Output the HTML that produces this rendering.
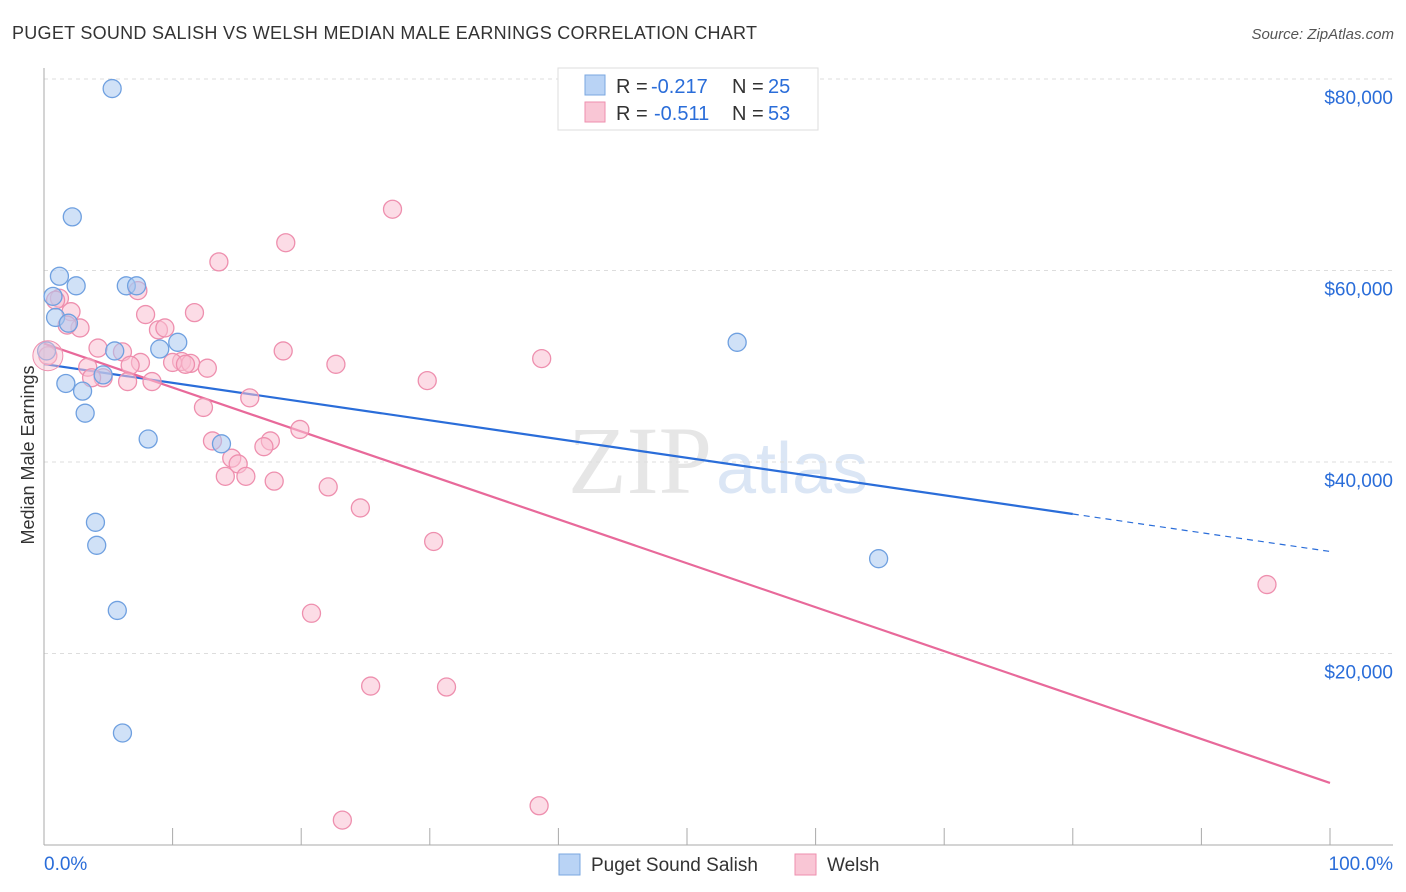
<!DOCTYPE html>
<html><head><meta charset="utf-8"><style>
body{margin:0;background:#fff;font-family:"Liberation Sans",sans-serif;}
svg{display:block}
</style></head><body>
<svg id="chart" width="1406" height="892" xmlns="http://www.w3.org/2000/svg">
<text x="12" y="39" font-size="18" fill="#333" textLength="745">PUGET SOUND SALISH VS WELSH MEDIAN MALE EARNINGS CORRELATION CHART</text>
<text x="1394" y="39" font-size="15" fill="#555" font-style="italic" text-anchor="end">Source: ZipAtlas.com</text>
<text x="712" y="493" font-size="96" fill="#e6e6e6" text-anchor="end" font-family="Liberation Serif">ZIP</text>
<text x="716" y="493" font-size="72" fill="#dbe6f5">atlas</text>
<g id="grid"></g><g id="axes"></g><g id="lines"></g><g id="pts"></g>
<text transform="translate(34,455) rotate(-90)" font-size="18" fill="#333" text-anchor="middle">Median Male Earnings</text>
<g>
<rect x="558" y="68" width="260" height="62" fill="#fff" stroke="#ddd"/>
<rect x="585" y="75" width="20" height="20" fill="#b9d3f5" stroke="#7aa7e0"/>
<rect x="585" y="102" width="20" height="20" fill="#f9c6d5" stroke="#ee8fae"/>
<text x="616" y="93" font-size="20" fill="#333">R =</text>
<text x="651" y="93" font-size="20" fill="#2a6dd9">-0.217</text>
<text x="732" y="93" font-size="20" fill="#333">N =</text>
<text x="768" y="93" font-size="20" fill="#2a6dd9">25</text>
<text x="616" y="120" font-size="20" fill="#333">R =</text>
<text x="654" y="120" font-size="20" fill="#2a6dd9">-0.511</text>
<text x="732" y="120" font-size="20" fill="#333">N =</text>
<text x="768" y="120" font-size="20" fill="#2a6dd9">53</text>
</g>
<g>
<rect x="559" y="854" width="21" height="21" fill="#b9d3f5" stroke="#7aa7e0"/>
<text x="591" y="871" font-size="19" fill="#333">Puget Sound Salish</text>
<rect x="795" y="854" width="21" height="21" fill="#f9c6d5" stroke="#ee8fae"/>
<text x="827" y="871" font-size="19" fill="#333">Welsh</text>
</g>
</svg>
<script>
const blueX=[5.3,2.2,1.2,2.5,0.7,6.4,7.2,0.9,1.9,0.2,5.5,9.0,10.4,4.6,1.7,3.0,3.2,8.1,13.8,4.0,4.1,5.7,6.1,53.9,64.9];
const blueY=[79000,65600,59400,58400,57300,58400,58400,55100,54500,51600,51600,51800,52500,49100,48200,47400,45100,42400,41900,33700,31300,24500,11700,52500,29900];
const pinkX=[27.1,18.8,13.6,7.3,1.2,2.1,11.7,7.9,2.8,1.8,8.9,9.4,0.3,4.2,6.1,18.6,22.7,38.7,7.5,6.7,3.4,10.7,11.4,12.7,10.0,11.0,4.6,6.5,8.4,3.7,29.8,16.0,12.4,19.9,13.1,17.6,17.1,14.6,15.1,14.1,15.7,17.9,22.1,24.6,30.3,20.8,95.1,25.4,31.3,38.5,23.2,0.9];
const pinkY=[66400,62900,60900,57900,57100,55700,55600,55400,54000,54300,53800,54000,51100,51900,51500,51600,50200,50800,50400,50100,49900,50500,50300,49800,50400,50200,48800,48400,48400,48800,48500,46700,45700,43400,42200,42200,41600,40400,39800,38500,38500,38000,37400,35200,31700,24200,27200,16600,16500,4100,2600,56900];
const yTicks=[20000,40000,60000,80000];
const yTickLabels=["$20,000","$40,000","$60,000","$80,000"];
const xTicks=[0,10,20,30,40,50,60,70,80,90,100];
const NS="http://www.w3.org/2000/svg";
const X=p=>44+p*12.86, Y=v=>845-v*0.009575;
function mk(t,a,parent){const e=document.createElementNS(NS,t);for(const k in a)e.setAttribute(k,a[k]);document.getElementById(parent).appendChild(e);return e;}
yTicks.forEach((v,i)=>{
 const g=mk('line',{x1:44,x2:1393,y1:Y(v),y2:Y(v),stroke:'#ddd','stroke-dasharray':'4,4'},'grid');
 
 
 const t=mk('text',{x:1393,y:Y(v)+25,'font-size':19,fill:'#2a6dd9','text-anchor':'end'},'axes');
 t.textContent=yTickLabels[i];
 
 
});
const ax=mk('line',{x1:44,x2:44,y1:68,y2:845,stroke:'#aaa'},'axes');


const bx=mk('line',{x1:44,x2:1393,y1:845,y2:845,stroke:'#aaa'},'axes');


xTicks.forEach(p=>{const l=mk('line',{x1:X(p),x2:X(p),y1:828,y2:845,stroke:'#aaa'},'axes');
 
 });
const t0=mk('text',{x:44,y:870,'font-size':19,fill:'#2a6dd9'},'axes');t0.textContent='0.0%';


const t1=mk('text',{x:1393,y:870,'font-size':19,fill:'#2a6dd9','text-anchor':'end'},'axes');t1.textContent='100.0%';


function reg(xs,ys){const n=xs.length;let mx=0,my=0;xs.forEach((x,i)=>{mx+=x;my+=ys[i]});mx/=n;my/=n;let sxy=0,sxx=0;xs.forEach((x,i)=>{sxy+=(x-mx)*(ys[i]-my);sxx+=(x-mx)*(x-mx)});const b=sxy/sxx;return [my-b*mx,b];}
function pts(xs,ys,fill,stroke,name){xs.forEach((x,i)=>{const c=mk('circle',{cx:X(x),cy:Y(ys[i]),r:9,fill:fill,'fill-opacity':0.55,stroke:stroke,'stroke-width':1.3},'pts');
 
 });}
pts(pinkX,pinkY,'#f9c0d1','#ee8fae','welsh-point');
pts(blueX,blueY,'#a9c8f0','#6fa0e0','puget-sound-salish-point');
const bigP=mk('circle',{cx:X(0.3),cy:Y(51100),r:15,fill:'#f9c0d1','fill-opacity':0.45,stroke:'#ee8fae'},'pts');


const [ba,bb]=reg(blueX,blueY), [pa,pb]=reg(pinkX,pinkY);
const bl=mk('line',{x1:X(0),y1:Y(ba),x2:X(80),y2:Y(ba+bb*80),stroke:'#2a6dd9','stroke-width':2.2},'lines');


const bd=mk('line',{x1:X(80),y1:Y(ba+bb*80),x2:X(100),y2:Y(ba+bb*100),stroke:'#2a6dd9','stroke-width':1.2,'stroke-dasharray':'6,5'},'lines');


const pl=mk('line',{x1:X(0),y1:Y(pa),x2:X(100),y2:Y(pa+pb*100),stroke:'#e8699a','stroke-width':2.2},'lines');


</script>
</body></html>
